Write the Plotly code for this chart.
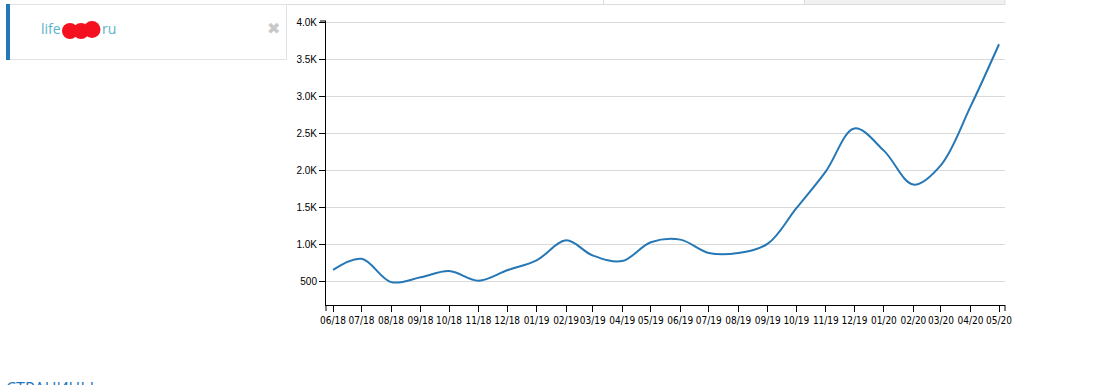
import plotly.graph_objects as go

# ---- data ----
months = ["2018-06-01", "2018-07-01", "2018-08-01", "2018-09-01", "2018-10-01", "2018-11-01",
          "2018-12-01", "2019-01-01", "2019-02-01", "2019-03-01", "2019-04-01", "2019-05-01",
          "2019-06-01", "2019-07-01", "2019-08-01", "2019-09-01", "2019-10-01", "2019-11-01",
          "2019-12-01", "2020-01-01", "2020-02-01", "2020-03-01", "2020-04-01", "2020-05-01"]
visits = [655, 805, 490, 555, 640, 510, 650, 785, 1055, 850, 775, 1030,
          1065, 885, 885, 1010, 1490, 1990, 2570, 2270, 1810, 2075, 2865, 3710]
tick_labels = ["06/18", "07/18", "08/18", "09/18", "10/18", "11/18", "12/18", "01/19",
               "02/19", "03/19", "04/19", "05/19", "06/19", "07/19", "08/19", "09/19",
               "10/19", "11/19", "12/19", "01/20", "02/20", "03/20", "04/20", "05/20"]
y_ticks = [500, 1000, 1500, 2000, 2500, 3000, 3500, 4000]
y_tick_labels = ["500", "1.0K", "1.5K", "2.0K", "2.5K", "3.0K", "3.5K", "4.0K"]
site_prefix = "life"
site_suffix = "ru"
bottom_title = "СТРАНИЦЫ"

# ---- layout geometry (pixels) ----
W, H = 1101, 385
L, R, T, B = 326, 1005, 21, 305


def px(x):
    return (x - L) / (R - L)


def py(y):
    return (B - y) / (B - T)


fig = go.Figure()
fig.add_trace(go.Scatter(
    x=months, y=visits, mode="lines",
    line=dict(color="#2677b5", width=2, shape="spline", smoothing=1.0),
    hoverinfo="x+y",
))

tick_font = dict(family="Liberation Sans, Arial, sans-serif", size=10, color="#000")
xtick_font = dict(family="Liberation Sans Narrow, DejaVu Sans Condensed, Liberation Sans, sans-serif",
                  size=10, color="#000")

fig.update_layout(
    width=W, height=H,
    margin=dict(l=L, r=W - R, t=T, b=H - B, pad=0),
    paper_bgcolor="white", plot_bgcolor="white",
    showlegend=False,
    xaxis=dict(
        type="date",
        range=["2018-05-24 15:00", "2020-05-07 07:00"],
        tickvals=months, ticktext=tick_labels, tickangle=0,
        showgrid=False, zeroline=False,
        showline=True, linecolor="#000", linewidth=1,
        ticks="outside", ticklen=6, tickcolor="#000", tickwidth=1,
        tickfont=xtick_font,
    ),
    yaxis=dict(
        range=[180, 4025],
        tickvals=y_ticks, ticktext=y_tick_labels,
        showgrid=True, gridcolor="#d9d9d9", gridwidth=1,
        zeroline=False,
        showline=True, linecolor="#000", linewidth=1,
        ticks="outside", ticklen=6, tickcolor="#000", tickwidth=1,
        tickfont=tick_font,
    ),
)

shapes = []
# top tab border line
shapes.append(dict(type="line", xref="paper", yref="paper",
                   x0=px(6), x1=px(1005), y0=py(4.5), y1=py(4.5),
                   line=dict(color="#dcdcdc", width=1)))
# tab boxes at top
shapes.append(dict(type="rect", xref="paper", yref="paper",
                   x0=px(804.5), x1=px(1005), y0=py(-2), y1=py(4.5),
                   fillcolor="#f1f1f1", line=dict(color="#dcdcdc", width=1)))
shapes.append(dict(type="line", xref="paper", yref="paper",
                   x0=px(603.5), x1=px(603.5), y0=py(-2), y1=py(4.5),
                   line=dict(color="#dcdcdc", width=1)))
# left panel box
shapes.append(dict(type="rect", xref="paper", yref="paper",
                   x0=px(6.5), x1=px(286.5), y0=py(4.5), y1=py(59.5),
                   fillcolor="white", line=dict(color="#e2e2e2", width=1)))
shapes.append(dict(type="rect", xref="paper", yref="paper",
                   x0=px(6), x1=px(10), y0=py(4), y1=py(60),
                   fillcolor="#2578b8", line=dict(width=0)))
# redaction blob
for cx, cy, r in [(70, 31, 8), (81, 31, 8), (92, 29.5, 8.5)]:
    shapes.append(dict(type="circle", xref="paper", yref="paper",
                       x0=px(cx - r), x1=px(cx + r), y0=py(cy + r), y1=py(cy - r),
                       fillcolor="#f4101e", line=dict(width=0), layer="above"))
# d3-style outer ticks
shapes.append(dict(type="line", xref="paper", yref="paper",
                   x0=px(320), x1=px(326), y0=1, y1=1, line=dict(color="#000", width=1)))
shapes.append(dict(type="line", xref="paper", yref="paper",
                   x0=0, x1=0, y0=0, y1=py(311), line=dict(color="#000", width=1)))
shapes.append(dict(type="line", xref="paper", yref="paper",
                   x0=1, x1=1, y0=0, y1=py(311), line=dict(color="#000", width=1)))
fig.update_layout(shapes=shapes)

ann_font = dict(family="Open Sans, sans-serif", size=14, color="#5ab4cb")
annotations = [
    dict(text=site_prefix, x=px(39), y=py(29), xref="paper", yref="paper",
         xanchor="left", yanchor="middle", showarrow=False, font=ann_font),
    dict(text=site_suffix, x=px(100), y=py(29), xref="paper", yref="paper",
         xanchor="left", yanchor="middle", showarrow=False, font=ann_font),
    dict(text="✖", x=px(273), y=py(29), xref="paper", yref="paper",
         xanchor="center", yanchor="middle", showarrow=False,
         font=dict(family="DejaVu Sans", size=16, color="#c8c8c8")),
    dict(text=bottom_title, x=px(4), y=py(375), xref="paper", yref="paper",
         xanchor="left", yanchor="top", showarrow=False,
         font=dict(family="Open Sans, sans-serif", size=16, color="#1c75bc")),
]
fig.update_layout(annotations=annotations)

fig.write_html("out.html", config={"displayModeBar": False},
               post_script="document.body.style.margin='0';")
